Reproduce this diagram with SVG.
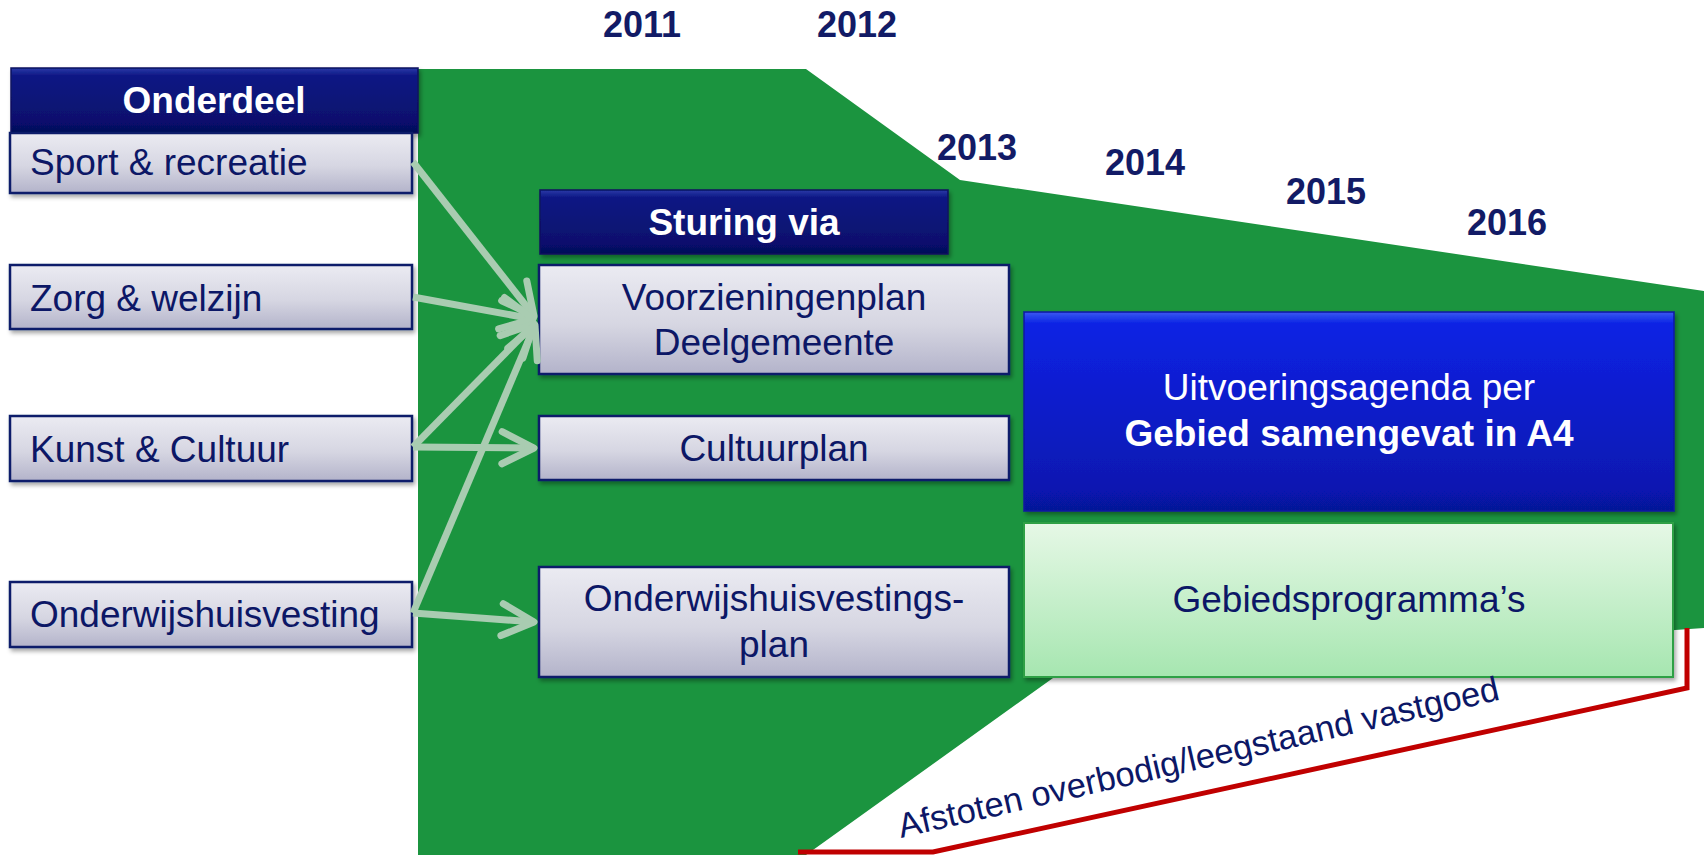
<svg xmlns="http://www.w3.org/2000/svg" width="1704" height="855" viewBox="0 0 1704 855">
  <defs>
    <linearGradient id="gLight" x1="0" y1="0" x2="0" y2="1">
      <stop offset="0" stop-color="#ebebf2"/>
      <stop offset="0.55" stop-color="#d6d6e2"/>
      <stop offset="1" stop-color="#b3b3ca"/>
    </linearGradient>
    <linearGradient id="gNavy" x1="0" y1="0" x2="0" y2="1">
      <stop offset="0" stop-color="#2a3aa8"/>
      <stop offset="0.12" stop-color="#0d1784"/>
      <stop offset="0.85" stop-color="#07106c"/>
      <stop offset="1" stop-color="#050c55"/>
    </linearGradient>
    <linearGradient id="gBlue" x1="0" y1="0" x2="0" y2="1">
      <stop offset="0" stop-color="#3a58f0"/>
      <stop offset="0.06" stop-color="#0a22e4"/>
      <stop offset="0.9" stop-color="#0718b0"/>
      <stop offset="1" stop-color="#061496"/>
    </linearGradient>
    <linearGradient id="gMint" x1="0" y1="0" x2="0" y2="1">
      <stop offset="0" stop-color="#e6f8e6"/>
      <stop offset="1" stop-color="#a6e6b0"/>
    </linearGradient>
    <filter id="shadow" x="-5%" y="-10%" width="110%" height="130%">
      <feDropShadow dx="2" dy="3" stdDeviation="2" flood-color="#000" flood-opacity="0.35"/>
    </filter>
    <marker id="chevron" markerUnits="userSpaceOnUse" viewBox="-44 -26 52 52" markerWidth="52" markerHeight="52" refX="0" refY="0" orient="auto">
      <path d="M -32 -16 L 0 0 L -32 16" fill="none" stroke="#a9ccb1" stroke-width="7" stroke-linecap="round" stroke-linejoin="round"/>
    </marker>
    <style>
      .txt { font-family: "Liberation Sans", Arial, sans-serif; font-size: 37px; fill: #0c1766; }
      .hdr { font-family: "Liberation Sans", Arial, sans-serif; font-size: 37px; font-weight: bold; fill: #ffffff; }
      .year { font-family: "Liberation Sans", Arial, sans-serif; font-size: 36px; font-weight: bold; fill: #121b66; text-anchor: middle; }
      .box { fill: url(#gLight); stroke: #0c1a6a; stroke-width: 2.5; filter: url(#shadow); }
      .navy { fill: url(#gNavy); stroke: #0a1260; stroke-width: 1.5; filter: url(#shadow); }
      .mid { text-anchor: middle; }
      .conn { fill: none; stroke: #a9ccb1; stroke-width: 7; stroke-linecap: butt; marker-end: url(#chevron); }
    </style>
  </defs>

  <rect width="1704" height="855" fill="#ffffff"/>

  <!-- shrinking green band over the years -->
  <polygon id="band" points="418,69 806,69 960,180 1704,291 1704,628 1060,673 806,855 418,855" fill="#1b943f"/>

  <!-- red boundary line -->
  <polyline id="boundary" points="798,852 933,852 1687,688 1687,628" fill="none" stroke="#c00000" stroke-width="5"/>

  <!-- years -->
  <g id="years">
    <text class="year" x="642" y="37">2011</text>
    <text class="year" x="857" y="37">2012</text>
    <text class="year" x="977" y="160">2013</text>
    <text class="year" x="1145" y="175">2014</text>
    <text class="year" x="1326" y="204">2015</text>
    <text class="year" x="1507" y="235">2016</text>
  </g>

  <!-- left column -->
  <g id="onderdeel">
    <rect class="navy" x="11" y="68" width="407" height="65"/>
    <text class="hdr mid" x="214" y="113">Onderdeel</text>
  </g>
  <g id="sport">
    <rect class="box" x="10" y="133" width="402" height="60"/>
    <text class="txt" x="30" y="175">Sport &amp; recreatie</text>
  </g>
  <g id="zorg">
    <rect class="box" x="10" y="265" width="402" height="64"/>
    <text class="txt" x="30" y="311">Zorg &amp; welzijn</text>
  </g>
  <g id="kunst">
    <rect class="box" x="10" y="416" width="402" height="65"/>
    <text class="txt" x="30" y="462">Kunst &amp; Cultuur</text>
  </g>
  <g id="onderwijs">
    <rect class="box" x="10" y="582" width="402" height="65"/>
    <text class="txt" x="30" y="627">Onderwijshuisvesting</text>
  </g>

  <!-- middle column -->
  <g id="sturing">
    <rect class="navy" x="540" y="190" width="408" height="64"/>
    <text class="hdr mid" x="744" y="235">Sturing via</text>
  </g>
  <g id="voorzieningenplan">
    <rect class="box" x="539" y="265" width="470" height="109"/>
    <text class="txt mid" x="774" y="310">Voorzieningenplan</text>
    <text class="txt mid" x="774" y="355">Deelgemeente</text>
  </g>
  <g id="cultuurplan">
    <rect class="box" x="539" y="416" width="470" height="64"/>
    <text class="txt mid" x="774" y="461">Cultuurplan</text>
  </g>
  <g id="huisvestingsplan">
    <rect class="box" x="539" y="567" width="470" height="110"/>
    <text class="txt mid" x="774" y="611">Onderwijshuisvestings-</text>
    <text class="txt mid" x="774" y="657">plan</text>
  </g>

  <!-- right column -->
  <g id="uitvoeringsagenda">
    <rect x="1024" y="312" width="650" height="199" fill="url(#gBlue)" stroke="#0a1aa0" stroke-width="1.5" filter="url(#shadow)"/>
    <text class="txt mid" x="1349" y="400" style="fill:#ffffff">Uitvoeringsagenda per</text>
    <text class="hdr mid" x="1349" y="446">Gebied samengevat in A4</text>
  </g>
  <g id="gebiedsprogrammas">
    <rect x="1024" y="523" width="649" height="154" fill="url(#gMint)" stroke="#2ea044" stroke-width="2" filter="url(#shadow)"/>
    <text class="txt mid" x="1349" y="612">Gebiedsprogramma’s</text>
  </g>

  <!-- label along the boundary -->
  <text id="afstoten" class="txt" x="901" y="838" style="font-size:34.5px" transform="rotate(-13 901 838)">Afstoten overbodig/leegstaand vastgoed</text>

  <!-- connectors -->
  <g id="connectors">
    <line class="conn" x1="413" y1="162" x2="534" y2="316"/>
    <line class="conn" x1="413" y1="297" x2="533" y2="319"/>
    <line class="conn" x1="413" y1="447" x2="534" y2="324"/>
    <line class="conn" x1="413" y1="613" x2="535" y2="325"/>
    <line class="conn" x1="413" y1="447" x2="534" y2="448"/>
    <line class="conn" x1="413" y1="613" x2="534" y2="622"/>
  </g>
</svg>
